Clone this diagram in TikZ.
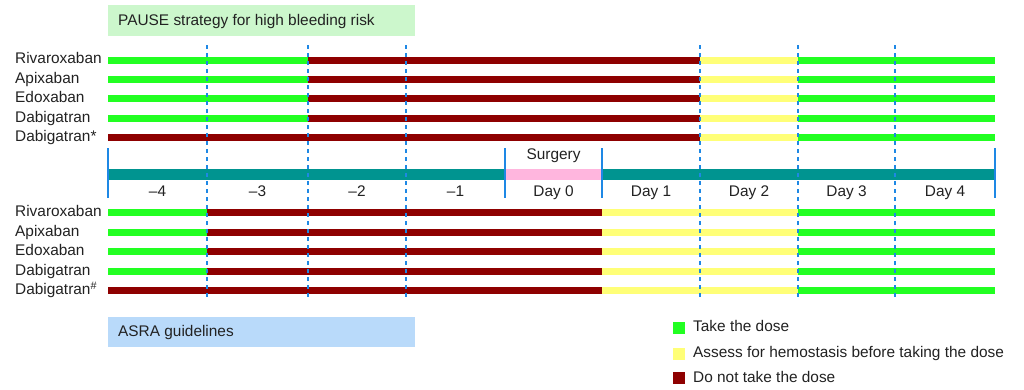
\documentclass[tikz,border=0pt]{standalone}
\usepackage{fontspec}
\setmainfont{Liberation Sans}
\definecolor{takegreen}{HTML}{22FF22}
\definecolor{stopred}{HTML}{8E0000}
\definecolor{assessyellow}{HTML}{FFFF77}
\definecolor{axisteal}{HTML}{009490}
\definecolor{surgpink}{HTML}{FFB6DE}
\definecolor{gridblue}{HTML}{1E88E5}
\definecolor{pausebox}{HTML}{CCF7CC}
\definecolor{asrabox}{HTML}{B9DAFA}
\definecolor{txt}{HTML}{222222}
\tikzset{
  bar/.style={line width=7pt, line cap=butt},
  grid/.style={gridblue, line width=1.5pt, dash pattern=on 4pt off 4pt},
  tick/.style={gridblue, line width=1.5pt},
  drug/.style={anchor=base west, inner sep=0pt, text=txt},
  daylab/.style={anchor=base, inner sep=0pt, text=txt},
  legsq/.style={minimum size=12pt, inner sep=0pt, draw=none},
}
\begin{document}
\begin{tikzpicture}[x=1pt, y=-1pt, font=\fontsize{15.4}{18}\selectfont, text=txt]
\useasboundingbox[fill=white] (0,0) rectangle (1024,389);
\def\xmin{108} \def\xmax{995}
% title boxes
\fill[pausebox] (108,5) rectangle (415,36);
\node[drug] (pause) at (118,25) {PAUSE strategy for high bleeding risk};
\fill[asrabox] (108,316.5) rectangle (415,347);
\node[drug] (asra) at (118,336) {ASRA guidelines};
% dose bars: green, red from \s to \e, yellow to 798, green to the end
\foreach \y/\s/\e in {60/308/700, 79.3/308/700, 98.6/308/700, 118/308/700, 137/108/700,
    212.7/207/602, 232.3/207/602, 251.7/207/602, 271/207/602, 290.3/108/602}{
  \draw[bar, takegreen] (\xmin,\y) -- (\s,\y);
  \draw[bar, stopred] (\s,\y) -- (\e,\y);
  \draw[bar, assessyellow] (\e,\y) -- (798,\y);
  \draw[bar, takegreen] (798,\y) -- (\xmax,\y);
}
% drug names
\foreach \y/\n/\t in {63.5/rivtop/Rivaroxaban, 83.3/apitop/Apixaban, 102.6/edotop/Edoxaban,
    122/dabtop/Dabigatran, 141.5/dabstar/Dabigatran*,
    216.7/rivbot/Rivaroxaban, 236.3/apibot/Apixaban, 255.7/edobot/Edoxaban,
    275/dabbot/Dabigatran, 294.3/dabhash/{Dabigatran$^{\#}$}}
  \node[drug] (\n) at (15,\y) {\t};
% time axis
\fill[axisteal] (\xmin,168.5) rectangle (\xmax,179.5);
\fill[surgpink] (505,168.5) rectangle (602,179.5);
\foreach \x in {108,505,602,995} \draw[tick] (\x,148) -- (\x,198);
\node[daylab] (surgery) at (553.5,159.5) {Surgery};
\foreach \x/\n/\t in {157.5/dm4/\textendash4, 257.5/dm3/\textendash3, 357/dm2/\textendash2,
    455.5/dm1/\textendash1, 553.5/d0/Day 0, 651/d1/Day 1, 749/d2/Day 2, 846.5/d3/Day 3, 945/d4/Day 4}
  \node[daylab] (\n) at (\x,196.5) {\t};
% dashed day borders
\foreach \x in {207,308,406,700,798,895} \draw[grid] (\x,45) -- (\x,298);
% legend
\foreach \y/\c/\n/\t in {327.5/takegreen/legtake/Take the dose,
    353.5/assessyellow/legassess/Assess for hemostasis before taking the dose,
    378/stopred/legstop/Do not take the dose}{
  \node[legsq, fill=\c] (\n) at (679,\y) {};
  \node[drug] at (693,\y+4) {\t};
}
\end{tikzpicture}
\end{document}
